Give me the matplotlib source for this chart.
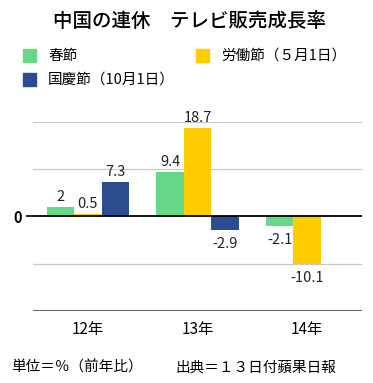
import numpy as np
import matplotlib.pyplot as plt

plt.rcParams['font.family'] = ['Noto Sans CJK JP', 'DejaVu Sans']

years = ['12年', '13年', '14年']
series = ['春節', '労働節（５月1日）', '国慶節（10月1日）']
spring = [2, 9.4, -2.1]
labour = [0.5, 18.7, -10.1]
national = [7.3, -2.9, 0]
colors = ['#66D888', '#FFCC00', '#2B4C8F']

fig = plt.figure(figsize=(3.73, 3.83), dpi=100)
ax = fig.add_axes([0.0885, 0.188, 0.882, 0.4935])

index = np.arange(len(years))
bar_width = 0.25
data = [spring, labour, national]

for i, (name, vals) in enumerate(zip(series, data)):
    pos = index + (i - 1) * bar_width
    ax.bar(pos, vals, bar_width, color=colors[i], label=name, zorder=3)
    for x, v in zip(pos, vals):
        if v == 0:
            continue
        if v > 0:
            ax.annotate(f"{v:g}", (x, v), xytext=(0, 2), textcoords='offset points',
                        ha='center', va='bottom', fontsize=10.5, color='#222222')
        else:
            ax.annotate(f"{v:g}", (x, v), xytext=(0, -5), textcoords='offset points',
                        ha='center', va='top', fontsize=10.5, color='#222222')

ax.set_xlim(-0.5, 2.5)
ax.set_ylim(-20, 20)
for g in [-10, 10, 20]:
    ax.axhline(g, color='#c8c8c8', lw=0.9, zorder=1)
ax.axhline(0, color='black', lw=1.3, zorder=4)
ax.axhline(-20, color='#444444', lw=1.2, zorder=4)

for s in ax.spines.values():
    s.set_visible(False)
ax.set_yticks([0])
ax.set_yticklabels(['0'], fontsize=10.5, fontweight='bold')
ax.tick_params(axis='y', length=5, width=1.2, pad=3)
ax.set_xticks(index)
ax.set_xticklabels(years, fontsize=11)
ax.tick_params(axis='x', length=0, pad=7)

fig.text(0.508, 0.945, '中国の連休　テレビ販売成長率', ha='center', va='center',
         fontsize=14, fontweight='medium')

# legend
leg_items = [(0.062, 0.855), (0.525, 0.855), (0.062, 0.793)]
for (lx, ly), name, c in zip(leg_items, series, colors):
    fig.patches.append(plt.Rectangle((lx, ly - 0.017), 0.035, 0.034, color=c,
                                     transform=fig.transFigure, figure=fig))
    fig.text(lx + 0.067, ly, name, ha='left', va='center', fontsize=10.5)

fig.text(0.03, 0.04, '単位＝％（前年比）', ha='left', va='center', fontsize=10.5)
fig.text(0.47, 0.04, '出典＝１３日付蘋果日報', ha='left', va='center', fontsize=10.5)

fig.savefig('out.png', dpi=100)
